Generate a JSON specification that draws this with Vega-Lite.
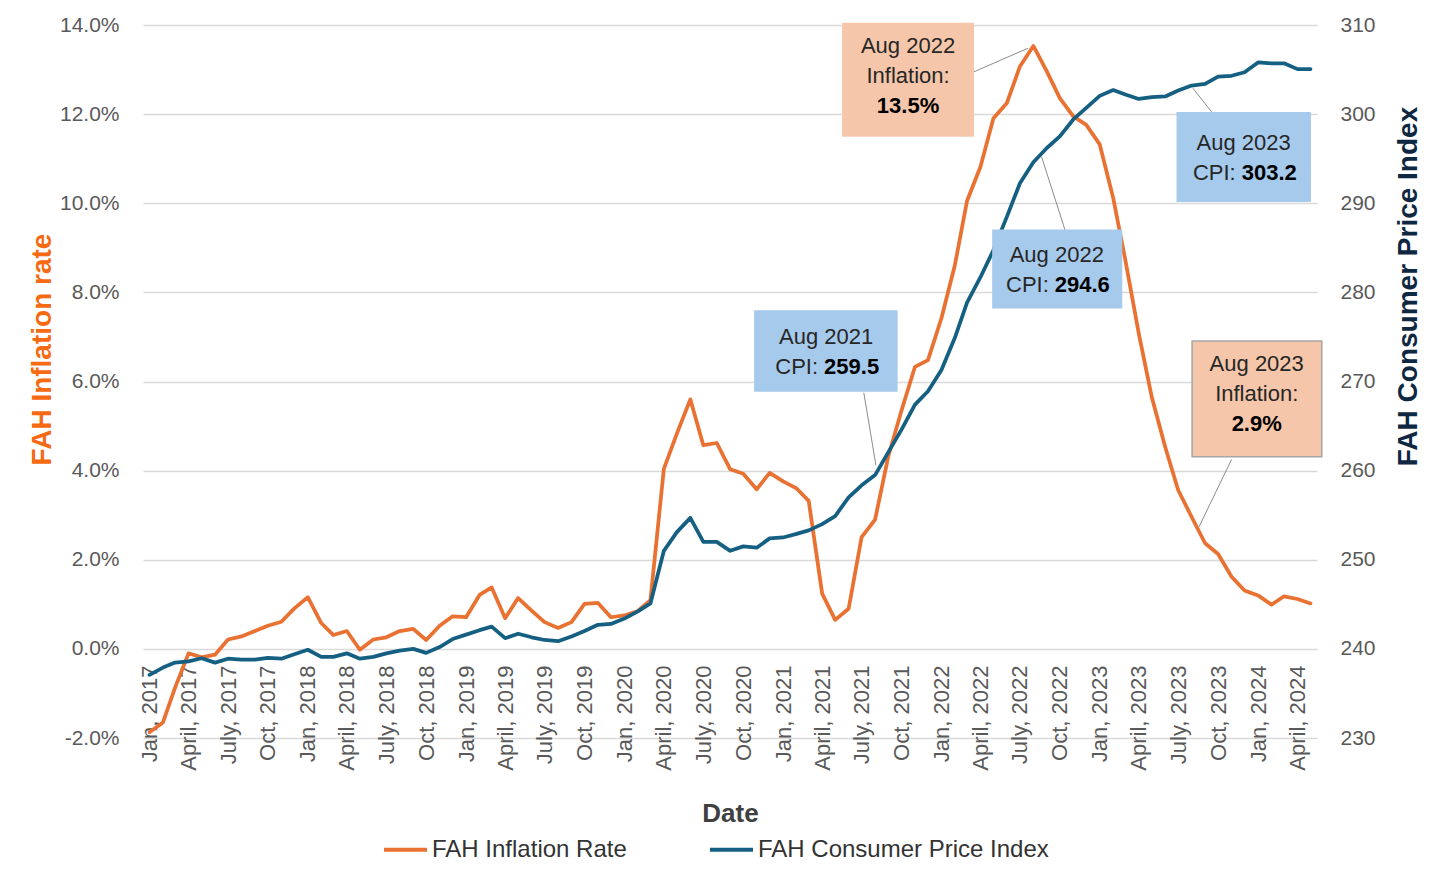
{
  "$schema": "https://vega.github.io/schema/vega-lite/v6.json",
  "width": 1174,
  "height": 713,
  "autosize": {"type": "none"},
  "padding": {"left": 143, "top": 25, "right": 113, "bottom": 154},
  "config": {
    "font": "Liberation Sans",
    "view": {"stroke": null},
    "axis": {"domain": false, "ticks": false, "tickSize": 0, "labelColor": "#595959", "titleColor": "#404040"}
  },
  "datasets": {
    "fah": [
      {"month": "2017-01-01", "rate": -0.0187, "cpi": 237.08},
      {"month": "2017-02-01", "rate": -0.0165, "cpi": 237.9},
      {"month": "2017-03-01", "rate": -0.0087, "cpi": 238.46},
      {"month": "2017-04-01", "rate": -0.0010, "cpi": 238.6},
      {"month": "2017-05-01", "rate": -0.0019, "cpi": 238.95},
      {"month": "2017-06-01", "rate": -0.0013, "cpi": 238.46},
      {"month": "2017-07-01", "rate": 0.0021, "cpi": 238.9},
      {"month": "2017-08-01", "rate": 0.0028, "cpi": 238.8},
      {"month": "2017-09-01", "rate": 0.0040, "cpi": 238.8},
      {"month": "2017-10-01", "rate": 0.0052, "cpi": 239.0},
      {"month": "2017-11-01", "rate": 0.0061, "cpi": 238.9},
      {"month": "2017-12-01", "rate": 0.0091, "cpi": 239.4},
      {"month": "2018-01-01", "rate": 0.0116, "cpi": 239.9},
      {"month": "2018-02-01", "rate": 0.0058, "cpi": 239.1},
      {"month": "2018-03-01", "rate": 0.0031, "cpi": 239.1},
      {"month": "2018-04-01", "rate": 0.0040, "cpi": 239.5},
      {"month": "2018-05-01", "rate": -0.0002, "cpi": 238.9},
      {"month": "2018-06-01", "rate": 0.0021, "cpi": 239.1},
      {"month": "2018-07-01", "rate": 0.0026, "cpi": 239.5},
      {"month": "2018-08-01", "rate": 0.0040, "cpi": 239.8},
      {"month": "2018-09-01", "rate": 0.0045, "cpi": 240.0},
      {"month": "2018-10-01", "rate": 0.0020, "cpi": 239.55},
      {"month": "2018-11-01", "rate": 0.0052, "cpi": 240.2},
      {"month": "2018-12-01", "rate": 0.0073, "cpi": 241.1},
      {"month": "2019-01-01", "rate": 0.0071, "cpi": 241.6},
      {"month": "2019-02-01", "rate": 0.0121, "cpi": 242.1},
      {"month": "2019-03-01", "rate": 0.0138, "cpi": 242.5},
      {"month": "2019-04-01", "rate": 0.0069, "cpi": 241.2},
      {"month": "2019-05-01", "rate": 0.0114, "cpi": 241.7},
      {"month": "2019-06-01", "rate": 0.0086, "cpi": 241.3},
      {"month": "2019-07-01", "rate": 0.0060, "cpi": 241.0},
      {"month": "2019-08-01", "rate": 0.0047, "cpi": 240.86},
      {"month": "2019-09-01", "rate": 0.0060, "cpi": 241.4},
      {"month": "2019-10-01", "rate": 0.0101, "cpi": 242.0},
      {"month": "2019-11-01", "rate": 0.0103, "cpi": 242.7},
      {"month": "2019-12-01", "rate": 0.0071, "cpi": 242.8},
      {"month": "2020-01-01", "rate": 0.0075, "cpi": 243.4},
      {"month": "2020-02-01", "rate": 0.0085, "cpi": 244.2},
      {"month": "2020-03-01", "rate": 0.0109, "cpi": 245.1},
      {"month": "2020-04-01", "rate": 0.0404, "cpi": 251.0},
      {"month": "2020-05-01", "rate": 0.0483, "cpi": 253.1},
      {"month": "2020-06-01", "rate": 0.0560, "cpi": 254.7},
      {"month": "2020-07-01", "rate": 0.0457, "cpi": 252.0},
      {"month": "2020-08-01", "rate": 0.0462, "cpi": 252.0},
      {"month": "2020-09-01", "rate": 0.0403, "cpi": 251.0},
      {"month": "2020-10-01", "rate": 0.0393, "cpi": 251.5},
      {"month": "2020-11-01", "rate": 0.0358, "cpi": 251.35},
      {"month": "2020-12-01", "rate": 0.0395, "cpi": 252.4},
      {"month": "2021-01-01", "rate": 0.0376, "cpi": 252.5},
      {"month": "2021-02-01", "rate": 0.0360, "cpi": 252.9},
      {"month": "2021-03-01", "rate": 0.0332, "cpi": 253.3},
      {"month": "2021-04-01", "rate": 0.0124, "cpi": 254.0},
      {"month": "2021-05-01", "rate": 0.0065, "cpi": 254.9},
      {"month": "2021-06-01", "rate": 0.0090, "cpi": 257.0},
      {"month": "2021-07-01", "rate": 0.0251, "cpi": 258.35},
      {"month": "2021-08-01", "rate": 0.0290, "cpi": 259.5},
      {"month": "2021-09-01", "rate": 0.0434, "cpi": 262.1},
      {"month": "2021-10-01", "rate": 0.0535, "cpi": 264.6},
      {"month": "2021-11-01", "rate": 0.0633, "cpi": 267.4},
      {"month": "2021-12-01", "rate": 0.0648, "cpi": 268.9},
      {"month": "2022-01-01", "rate": 0.0742, "cpi": 271.3},
      {"month": "2022-02-01", "rate": 0.0861, "cpi": 274.9},
      {"month": "2022-03-01", "rate": 0.1005, "cpi": 278.85},
      {"month": "2022-04-01", "rate": 0.1082, "cpi": 281.7},
      {"month": "2022-05-01", "rate": 0.1191, "cpi": 284.75},
      {"month": "2022-06-01", "rate": 0.1225, "cpi": 288.5},
      {"month": "2022-07-01", "rate": 0.1307, "cpi": 292.25},
      {"month": "2022-08-01", "rate": 0.1353, "cpi": 294.6},
      {"month": "2022-09-01", "rate": 0.1296, "cpi": 296.2},
      {"month": "2022-10-01", "rate": 0.1236, "cpi": 297.5},
      {"month": "2022-11-01", "rate": 0.1195, "cpi": 299.4},
      {"month": "2022-12-01", "rate": 0.1176, "cpi": 300.7},
      {"month": "2023-01-01", "rate": 0.1132, "cpi": 302.05},
      {"month": "2023-02-01", "rate": 0.1012, "cpi": 302.7},
      {"month": "2023-03-01", "rate": 0.0873, "cpi": 302.2},
      {"month": "2023-04-01", "rate": 0.0708, "cpi": 301.7},
      {"month": "2023-05-01", "rate": 0.0565, "cpi": 301.9},
      {"month": "2023-06-01", "rate": 0.0453, "cpi": 301.98},
      {"month": "2023-07-01", "rate": 0.0356, "cpi": 302.65},
      {"month": "2023-08-01", "rate": 0.0296, "cpi": 303.2},
      {"month": "2023-09-01", "rate": 0.0237, "cpi": 303.4},
      {"month": "2023-10-01", "rate": 0.0213, "cpi": 304.2},
      {"month": "2023-11-01", "rate": 0.0162, "cpi": 304.3},
      {"month": "2023-12-01", "rate": 0.0131, "cpi": 304.7},
      {"month": "2024-01-01", "rate": 0.0120, "cpi": 305.8},
      {"month": "2024-02-01", "rate": 0.0099, "cpi": 305.7},
      {"month": "2024-03-01", "rate": 0.0118, "cpi": 305.7},
      {"month": "2024-04-01", "rate": 0.0112, "cpi": 305.05},
      {"month": "2024-05-01", "rate": 0.0102, "cpi": 305.05}
    ],
    "notes": [
      {"kind": "rate", "head": "Aug 2022", "label": "Inflation:", "value": "13.5%", "at": "2021-10-16", "mid": 0.1286,
       "x0": "2021-05-17", "x1": "2022-03-17", "y0": 0.1405, "y1": 0.1149,
       "fx": "2022-03-17", "fy": 0.1295, "tx": "2022-07-20", "ty": 0.1348},
      {"kind": "cpi", "head": "Aug 2021", "label": "CPI:", "value": "259.5", "at": "2021-04-10", "mid": 0.0666,
       "x0": "2020-10-26", "x1": "2021-09-22", "y0": 0.0760, "y1": 0.0577,
       "fx": "2021-07-06", "fy": 0.0575, "tx": "2021-08-03", "ty": 0.0412},
      {"kind": "cpi", "head": "Aug 2022", "label": "CPI:", "value": "294.6", "at": "2022-09-24", "mid": 0.0850,
       "x0": "2022-04-28", "x1": "2023-02-22", "y0": 0.0941, "y1": 0.0764,
       "fx": "2022-10-13", "fy": 0.0940, "tx": "2022-08-20", "ty": 0.1104},
      {"kind": "cpi", "head": "Aug 2023", "label": "CPI:", "value": "303.2", "at": "2023-11-29", "mid": 0.1101,
       "x0": "2023-06-27", "x1": "2024-05-02", "y0": 0.1205, "y1": 0.1003,
       "fx": "2023-09-16", "fy": 0.1205, "tx": "2023-08-04", "ty": 0.1258},
      {"kind": "rate", "head": "Aug 2023", "label": "Inflation:", "value": "2.9%", "at": "2023-12-29", "mid": 0.0572,
       "x0": "2023-08-02", "x1": "2024-05-27", "y0": 0.0691, "y1": 0.0431,
       "fx": "2023-11-01", "fy": 0.0425, "tx": "2023-08-18", "ty": 0.0274}
    ]
  },
  "layer": [
    {
      "data": {"name": "fah"},
      "mark": {"type": "line", "strokeWidth": 3.75, "strokeJoin": "round", "strokeCap": "round"},
      "encoding": {
        "x": {
          "field": "month",
          "type": "temporal",
          "scale": {
            "type": "utc",
            "domain": [
              {"year": 2016, "month": 12, "date": 17, "utc": true},
              {"year": 2024, "month": 5, "date": 16, "utc": true}
            ]
          },
          "axis": {
            "title": "Date",
            "offset": -89,
            "grid": false,
            "tickCount": {"interval": "month", "step": 3},
            "labelExpr": "['Jan','Feb','Mar','April','May','June','July','Aug','Sep','Oct','Nov','Dec'][utcmonth(datum.value)] + ', ' + utcyear(datum.value)",
            "labelAngle": 270,
            "labelFontSize": 22,
            "labelPadding": 16,
            "labelOverlap": false,
            "labelFlush": false,
            "labelBound": false,
            "titleFontSize": 26,
            "titleFontWeight": "bold",
            "titleY": 164,
            "titleBaseline": "middle"
          }
        },
        "y": {
          "field": "rate",
          "type": "quantitative",
          "scale": {"domain": [-0.02, 0.14], "nice": false, "zero": false},
          "axis": {
            "title": "FAH Inflation rate",
            "values": [-0.02, 0, 0.02, 0.04, 0.06, 0.08, 0.1, 0.12, 0.14],
            "labelExpr": "replace(format(datum.value, '.1%'), '\u2212', '-')",
            "labelFontSize": 21,
            "labelPadding": 24,
            "grid": true,
            "gridColor": "#D9D9D9",
            "gridWidth": 1.3,
            "titleColor": "#F56A12",
            "titleFontSize": 28,
            "titleFontWeight": "bold",
            "titleAngle": 270,
            "titleX": -101,
            "titleY": 324,
            "titleAlign": "center",
            "titleBaseline": "middle"
          }
        },
        "color": {
          "datum": "FAH Inflation Rate",
          "type": "nominal",
          "scale": {
            "domain": ["FAH Inflation Rate", "FAH Consumer Price Index"],
            "range": ["#E97132", "#156082"]
          },
          "legend": {
            "orient": "none",
            "legendX": 239,
            "legendY": 801,
            "direction": "horizontal",
            "title": null,
            "symbolType": "stroke",
            "symbolSize": 1849,
            "symbolStrokeWidth": 4,
            "labelFontSize": 24,
            "labelColor": "#333333",
            "labelOffset": 3,
            "labelLimit": 0,
            "columnPadding": 75
          }
        }
      }
    },
    {
      "data": {"name": "fah"},
      "mark": {"type": "line", "strokeWidth": 3.75, "strokeJoin": "round", "strokeCap": "round"},
      "encoding": {
        "x": {"field": "month", "type": "temporal"},
        "y": {
          "field": "cpi",
          "type": "quantitative",
          "scale": {"domain": [230, 310], "nice": false, "zero": false},
          "axis": {
            "orient": "right",
            "title": "FAH Consumer Price Index",
            "values": [230, 240, 250, 260, 270, 280, 290, 300, 310],
            "labelFontSize": 21,
            "labelPadding": 23,
            "grid": false,
            "titleColor": "#0E2841",
            "titleFontSize": 28,
            "titleFontWeight": "bold",
            "titleAngle": 270,
            "titleX": 91,
            "titleY": 261,
            "titleAlign": "center",
            "titleBaseline": "middle"
          }
        },
        "color": {"datum": "FAH Consumer Price Index", "type": "nominal"}
      }
    },
    {
      "data": {"name": "notes"},
      "layer": [
        {
          "mark": {"type": "rule", "color": "#8C8C8C", "strokeWidth": 1},
          "encoding": {
            "x": {"field": "fx", "type": "temporal"},
            "x2": {"field": "tx"},
            "y": {"field": "fy", "type": "quantitative", "scale": {"domain": [-0.02, 0.14], "nice": false, "zero": false}, "axis": null},
            "y2": {"field": "ty"}
          }
        },
        {
          "mark": {"type": "rect"},
          "encoding": {
            "x": {"field": "x0", "type": "temporal"},
            "x2": {"field": "x1"},
            "y": {"field": "y0", "type": "quantitative", "scale": {"domain": [-0.02, 0.14], "nice": false, "zero": false}, "axis": null},
            "y2": {"field": "y1"},
            "fill": {"field": "kind", "type": "nominal", "scale": {"domain": ["rate", "cpi"], "range": ["#F5C6AA", "#A6CAEC"]}, "legend": null}
          }
        },
        {
          "transform": [{"filter": "datum.kind == 'rate' && datum.head == 'Aug 2023'"}],
          "mark": {"type": "rect", "filled": false, "stroke": "#A6A6A6", "strokeWidth": 1.5},
          "encoding": {
            "x": {"field": "x0", "type": "temporal"},
            "x2": {"field": "x1"},
            "y": {"field": "y0", "type": "quantitative", "axis": null},
            "y2": {"field": "y1"}
          }
        },
        {
          "transform": [{"filter": "datum.kind == 'rate'"}],
          "layer": [
            {
              "mark": {"type": "text", "fontSize": 22, "color": "#262626", "baseline": "middle", "dy": -30},
              "encoding": {
                "x": {"field": "at", "type": "temporal"},
                "y": {"field": "mid", "type": "quantitative", "axis": null},
                "text": {"field": "head"}
              }
            },
            {
              "mark": {"type": "text", "fontSize": 22, "color": "#262626", "baseline": "middle"},
              "encoding": {
                "x": {"field": "at", "type": "temporal"},
                "y": {"field": "mid", "type": "quantitative", "axis": null},
                "text": {"field": "label"}
              }
            },
            {
              "mark": {"type": "text", "fontSize": 22, "fontWeight": "bold", "color": "#000000", "baseline": "middle", "dy": 30},
              "encoding": {
                "x": {"field": "at", "type": "temporal"},
                "y": {"field": "mid", "type": "quantitative", "axis": null},
                "text": {"field": "value"}
              }
            }
          ]
        },
        {
          "transform": [{"filter": "datum.kind == 'cpi'"}],
          "layer": [
            {
              "mark": {"type": "text", "fontSize": 22, "color": "#262626", "baseline": "middle", "dy": -15},
              "encoding": {
                "x": {"field": "at", "type": "temporal"},
                "y": {"field": "mid", "type": "quantitative", "axis": null},
                "text": {"field": "head"}
              }
            },
            {
              "mark": {"type": "text", "fontSize": 22, "color": "#262626", "baseline": "middle", "align": "right", "dx": -8, "dy": 15},
              "encoding": {
                "x": {"field": "at", "type": "temporal"},
                "y": {"field": "mid", "type": "quantitative", "axis": null},
                "text": {"field": "label"}
              }
            },
            {
              "mark": {"type": "text", "fontSize": 22, "fontWeight": "bold", "color": "#000000", "baseline": "middle", "align": "left", "dx": -2, "dy": 15},
              "encoding": {
                "x": {"field": "at", "type": "temporal"},
                "y": {"field": "mid", "type": "quantitative", "axis": null},
                "text": {"field": "value"}
              }
            }
          ]
        }
      ]
    }
  ],
  "resolve": {"scale": {"y": "independent"}}
}
